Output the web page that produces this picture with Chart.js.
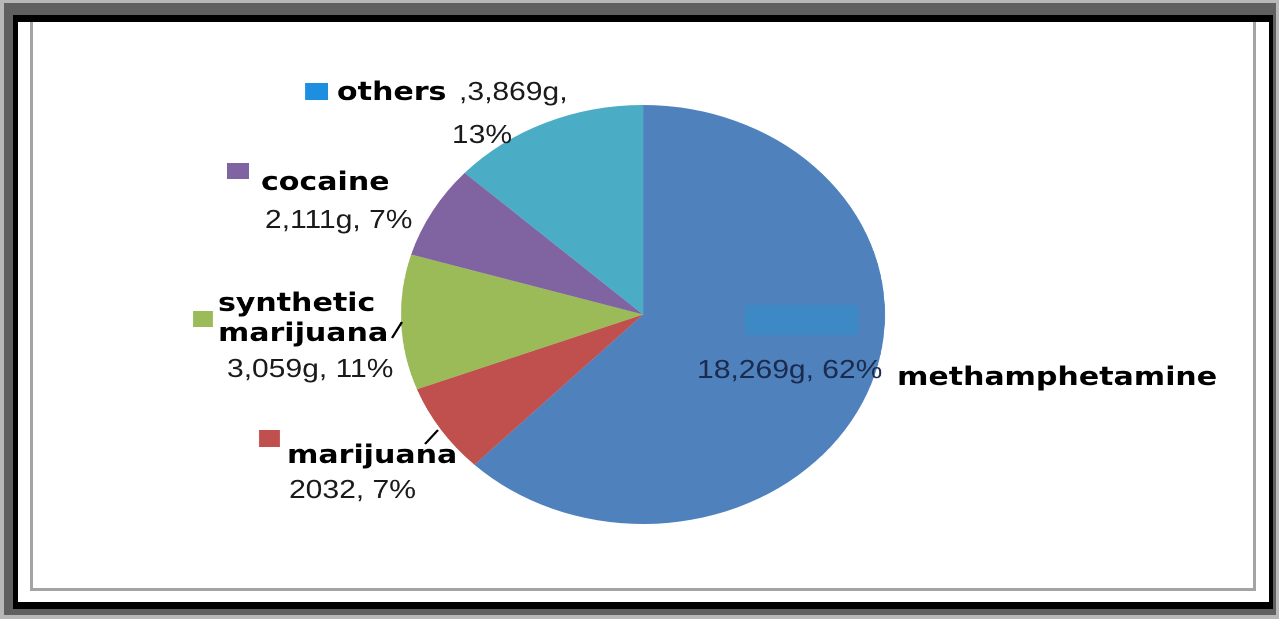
<!DOCTYPE html>
<html>
<head>
<meta charset="utf-8">
<script src="https://cdn.jsdelivr.net/npm/chart.js@4.4.0/dist/chart.umd.min.js"></script>
<style>
  html, body { margin: 0; padding: 0; }
  body { width: 1279px; height: 619px; background: #b8b8b8; position: relative; overflow: hidden; }
  .box { position: absolute; }
  #dark { left: 4px; top: 3px; width: 1272px; height: 612px; background: #606060; }
  #black { left: 13px; top: 15px; width: 1260px; height: 594px; background: #000; }
  #white { left: 18px; top: 22px; width: 1251px; height: 580px; background: #fff; }
  #inner { left: 30px; top: 22px; width: 1226px; height: 569px; box-sizing: border-box;
           border: 3px solid #a4a4a4; border-top: none; }
  /* the source picture is stretched sideways, so the whole chart is too */
  #wrap { position: absolute; left: 0; top: 0; width: 1107.4px; height: 619px;
          transform: scaleX(1.155); transform-origin: 0 0; }
</style>
</head>
<body>
<div class="box" id="dark"></div>
<div class="box" id="black"></div>
<div class="box" id="white"></div>
<div class="box" id="inner"></div>
<div id="wrap"><canvas id="pie"></canvas></div>
<script>
const categories = ['methamphetamine', 'marijuana', 'synthetic marijuana', 'cocaine', 'others'];
const grams = [18269, 2032, 3059, 2111, 3869];
const valueTexts = [['18,269g, 62%'], ['2032, 7%'], ['3,059g, 11%'], ['2,111g, 7%'], [',3,869g,', '13%']];
const sliceColors = ['#4f81bd', '#c0504d', '#9bbb59', '#8064a2', '#4bacc6'];
const keyColors = ['#3d89c6', '#c0504d', '#9bbb59', '#8064a2', '#1e8fe0'];

const BOLD = 'bold 26px "DejaVu Sans"';
const REG = '26px "Liberation Sans"';

// where each label sits (canvas units, before the sideways stretch)
const labelLayout = [
    { key: [645, 305, 98, 30], name: [[776.6, 385]], value: [[603.5, 378]], valueColor: '#1b2b4d' },
    { key: [224.2, 430, 18.2, 17], name: [[248.5, 463]], value: [[250.2, 498]], line: [368, 444, 379.2, 430] },
    { key: [167.1, 311, 17.3, 16], name: [[188.7, 311], [188.7, 341]], value: [[196.5, 377]], line: [339.4, 338, 348, 322] },
    { key: [196.5, 163, 19, 16], name: [[226, 190]], value: [[229.4, 228]] },
    { key: [264.1, 83, 19.9, 17], name: [[291.8, 100]], value: [[397.4, 100], [391.3, 143]] }
];
const nameLines = [['methamphetamine'], ['marijuana'], ['synthetic', 'marijuana'], ['cocaine'], ['others']];

const labelPlugin = {
    id: 'labelPlugin',
    afterDraw(chart) {
        const ctx = chart.ctx;
        ctx.save();
        ctx.textAlign = 'left';
        ctx.textBaseline = 'alphabetic';
        labelLayout.forEach((l, i) => {
            ctx.fillStyle = keyColors[i];
            ctx.fillRect(...l.key);
            ctx.fillStyle = '#000';
            ctx.font = BOLD;
            nameLines[i].forEach((t, j) => ctx.fillText(t, l.name[j][0], l.name[j][1]));
            ctx.fillStyle = l.valueColor || '#1a1a1a';
            ctx.font = REG;
            valueTexts[i].forEach((t, j) => ctx.fillText(t, l.value[j][0], l.value[j][1]));
            if (l.line) {
                ctx.strokeStyle = '#000';
                ctx.lineWidth = 2;
                ctx.beginPath();
                ctx.moveTo(l.line[0], l.line[1]);
                ctx.lineTo(l.line[2], l.line[3]);
                ctx.stroke();
            }
        });
        ctx.restore();
    }
};

new Chart(document.getElementById('pie'), {
    type: 'pie',
    data: {
        labels: categories,
        datasets: [{
            data: grams,
            backgroundColor: sliceColors,
            borderWidth: 0
        }]
    },
    options: {
        responsive: true,
        maintainAspectRatio: false,
        animation: false,
        devicePixelRatio: 2,
        layout: { padding: { left: 347.2, right: 341.2, top: 105, bottom: 95 } },
        plugins: { legend: { display: false }, tooltip: { enabled: false } }
    },
    plugins: [labelPlugin]
});
</script>
</body>
</html>
